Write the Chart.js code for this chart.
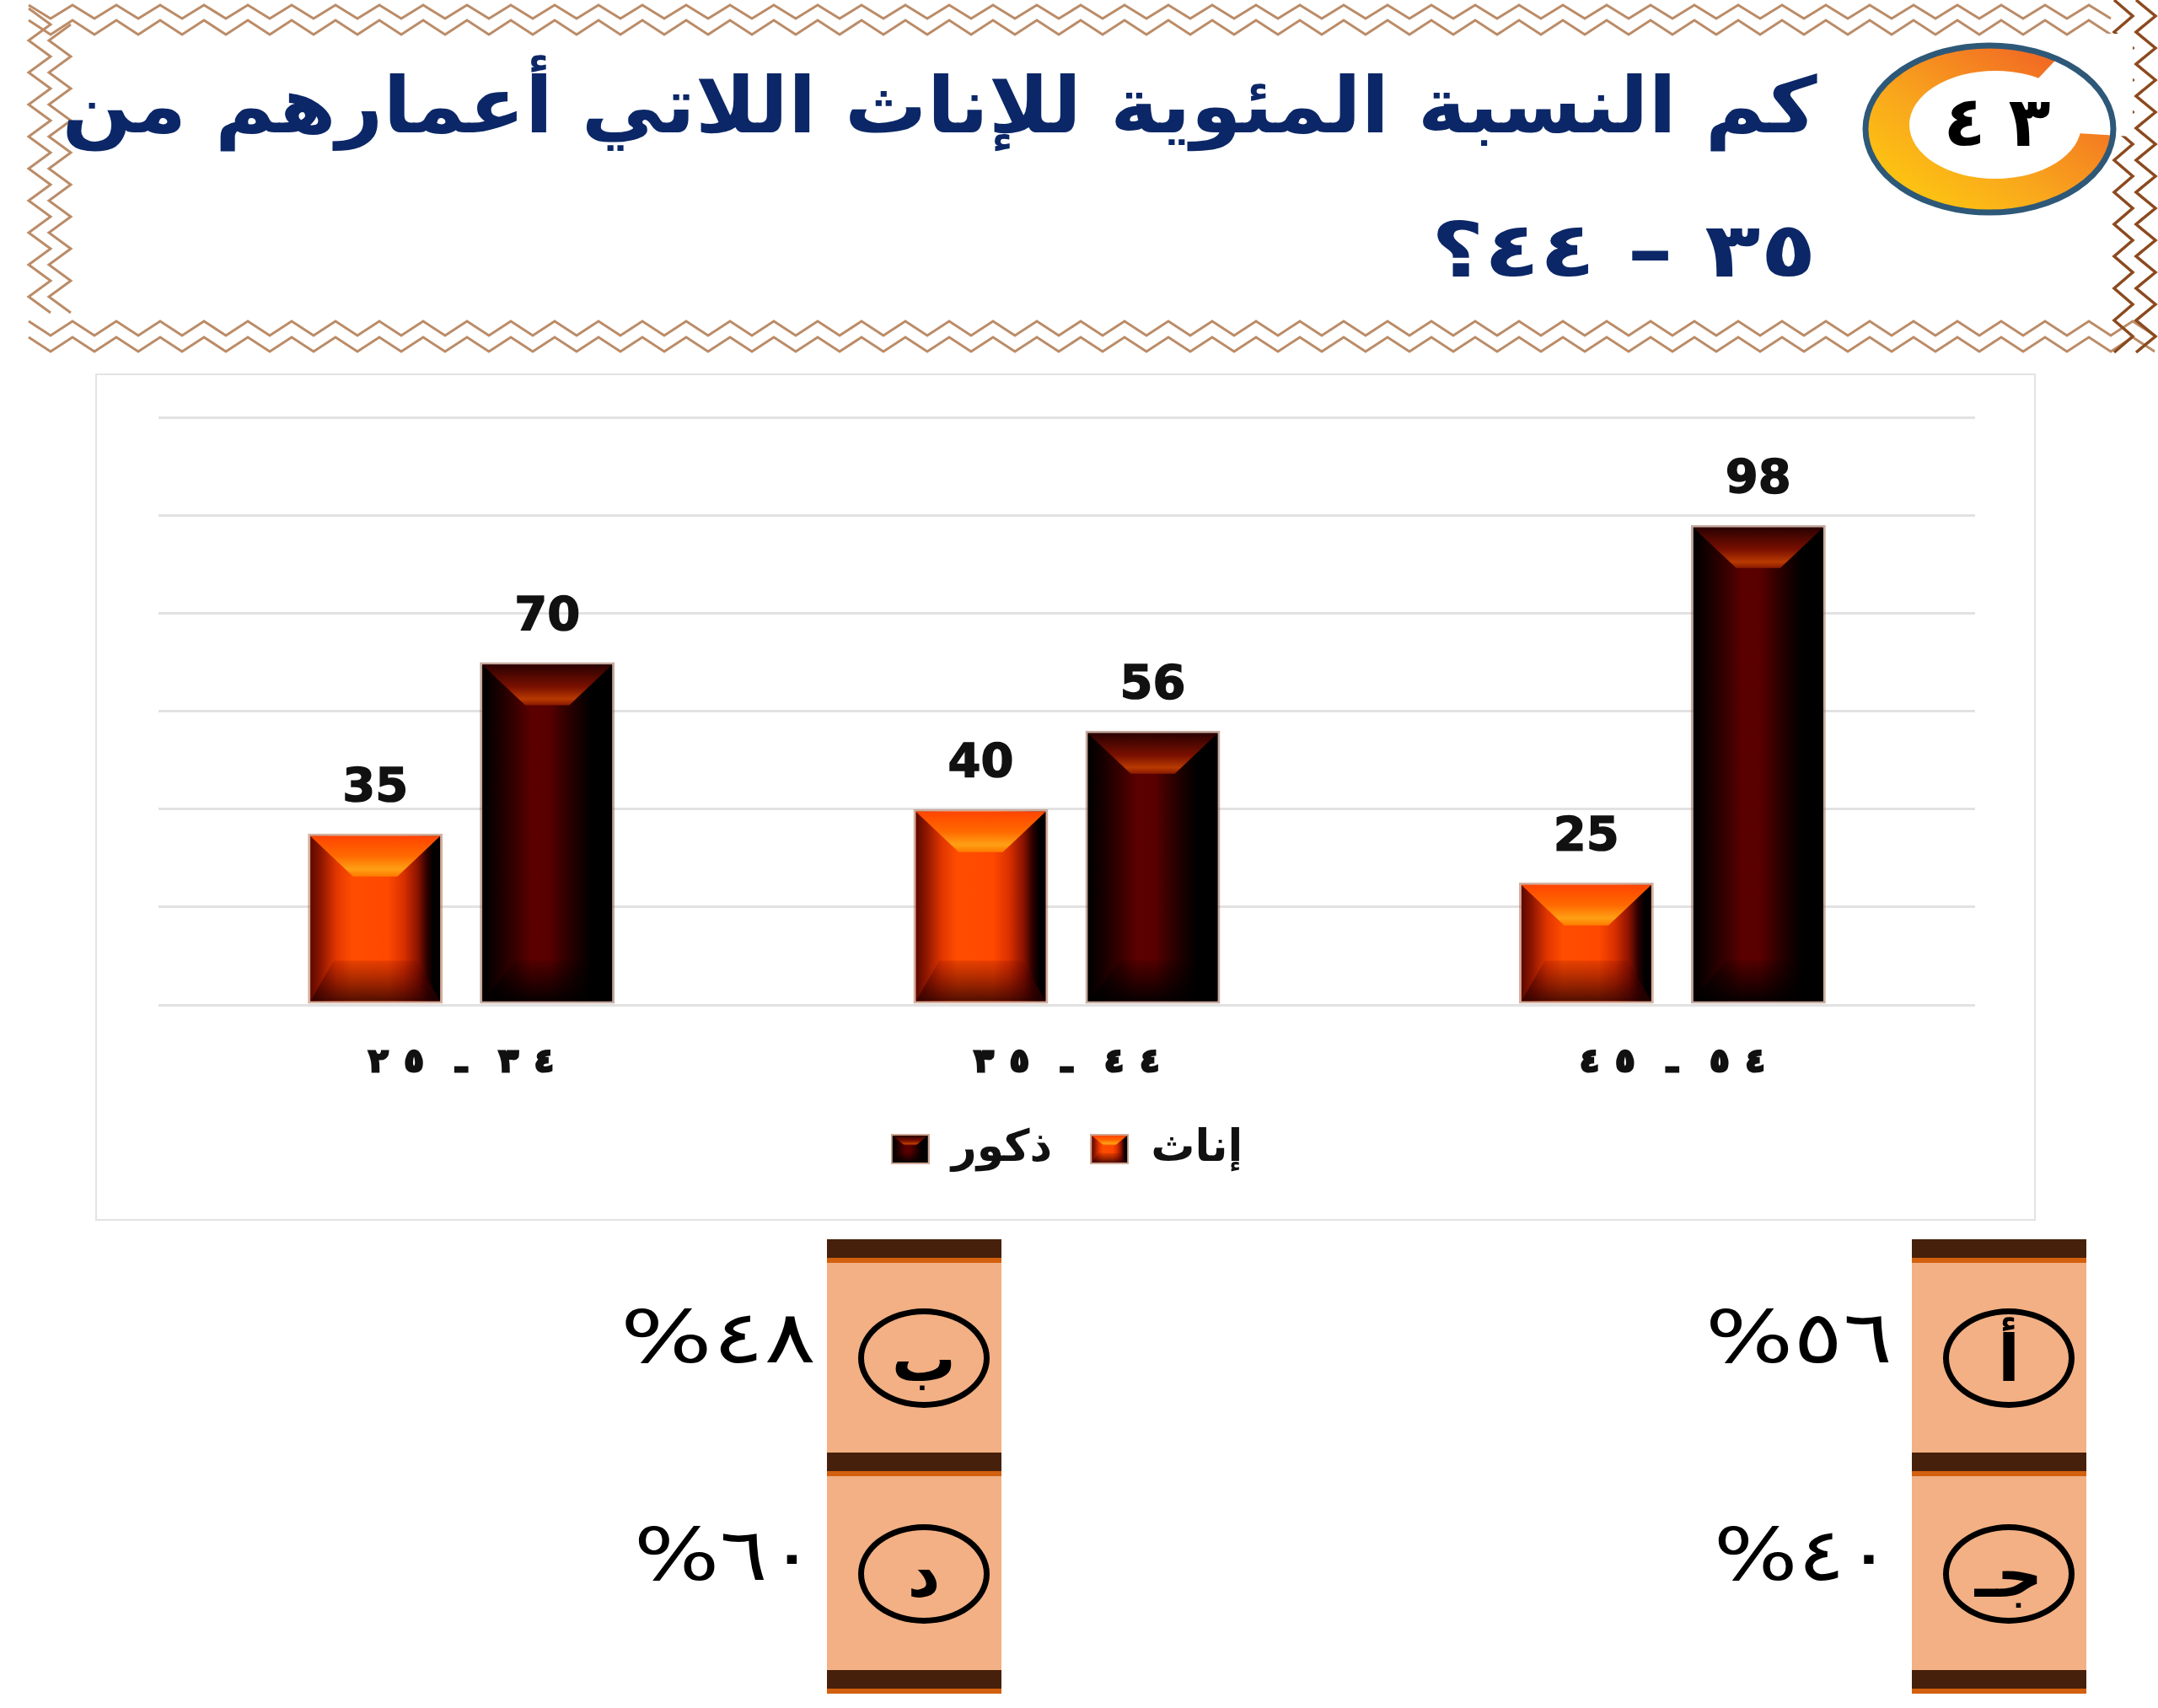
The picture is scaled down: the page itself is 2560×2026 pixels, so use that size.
<!DOCTYPE html>
<html lang="ar">
<head>
<meta charset="utf-8">
<title>النسبة المئوية للإناث والذكور حسب الفئة العمرية</title>
<script src="https://cdn.jsdelivr.net/npm/chart.js@4.4.1/dist/chart.umd.min.js"></script>
<style>
  html, body { margin: 0; padding: 0; background: #ffffff; }
  body { position: relative; width: 2560px; height: 2026px; overflow: hidden; font-family: "DejaVu Sans", sans-serif; }
  svg.layer { position: absolute; left: 0; top: 0; }
  .txt { position: absolute; white-space: nowrap; line-height: 1; }
  .rtl { direction: rtl; }
  #q1 { right: 405px; top: 80px; font-size: 92px; font-weight: bold; color: #0b2767; transform-origin: right center; }
  #q2 { right: 405px; top: 252px; font-size: 90px; font-weight: bold; color: #0b2767; transform-origin: right center; }
  #badgeNum { left: 2249px; top: 104px; width: 240px; text-align: center; font-size: 82px; font-weight: bold; color: #000; direction: ltr; }
  #chartFrame { position: absolute; left: 113px; top: 443px; width: 2298px; height: 1001px; border: 2px solid #e3e3e3; }
  #chartFrame canvas { display: block; }
  .cell { position: absolute; width: 207px; background: #f2b084; }
  .band { position: absolute; width: 207px; height: 22px; background: #46200a; border-bottom: 6px solid #d2600e; }
  .choice { position: absolute; width: 156px; height: 118px; border: 7px solid #000; border-radius: 50%; box-sizing: border-box;
            display: flex; align-items: center; justify-content: center; font-size: 76px; font-weight: bold; color: #000; }
  .answer { font-size: 86px; color: #000; direction: rtl; transform-origin: right center; }
</style>
</head>
<body>

<svg class="layer" id="deco" width="2560" height="430" viewBox="0 0 2560 430"></svg>
<div class="txt rtl" id="q1">كم النسبة المئوية للإناث اللاتي أعمارهم من</div>
<div class="txt rtl" id="q2">٣٥ – ٤٤؟</div>
<div class="txt" id="badgeNum">&#x202D;٤&#x2004;٣&#x202C;</div>

<div id="chartFrame"><canvas id="ageChart" width="2298" height="1001"></canvas></div>

<div id="choices"></div>

<script>
// ---------------- data ----------------
const ageGroups    = ['٢٥ ـ ٣٤', '٣٥ ـ ٤٤', '٤٥ ـ ٥٤'];
const seriesNames  = ['إناث', 'ذكور'];
const femaleValues = [35, 40, 25];
const maleValues   = [70, 56, 98];
const yAxisMax  = 120;
const yAxisStep = 20;

// answer options: letter + percentage
const choiceLetters = ['أ', 'ب', 'جـ', 'د'];
const choiceValues  = ['٥٦%', '٤٨%', '٤٠%', '٦٠%'];

// ---------------- header decoration ----------------
const SVGNS = 'http://www.w3.org/2000/svg';
const deco = document.getElementById('deco');
function svgEl(name, attrs) {
  const e = document.createElementNS(SVGNS, name);
  for (const k in attrs) e.setAttribute(k, attrs[k]);
  deco.appendChild(e);
  return e;
}
function zigzagH(x0, x1, yA, yB, period, color, w) {
  const pts = [];
  let up = true;
  for (let x = x0; x <= x1; x += period / 2) { pts.push(x + ',' + (up ? yA : yB)); up = !up; }
  svgEl('polyline', { points: pts.join(' '), fill: 'none', stroke: color, 'stroke-width': w, 'stroke-linejoin': 'miter' });
}
function zigzagV(y0, y1, xA, xB, period, color, w) {
  const pts = [];
  let left = true;
  for (let y = y0; y <= y1; y += period / 2) { pts.push((left ? xA : xB) + ',' + y); left = !left; }
  svgEl('polyline', { points: pts.join(' '), fill: 'none', stroke: color, 'stroke-width': w, 'stroke-linejoin': 'miter' });
}
const lightBrown = '#bb8c68', darkBrown = '#8b4a1e';
zigzagH(34, 2505, 6, 22, 52, lightBrown, 3);
zigzagH(34, 2505, 24, 41, 52, lightBrown, 3);
zigzagH(34, 2560, 381, 398, 52, lightBrown, 3);
zigzagH(34, 2560, 400, 417, 52, lightBrown, 3);
zigzagV(10, 372, 34, 60, 38, lightBrown, 3);
zigzagV(29, 372, 84, 58, 38, lightBrown, 3);
zigzagV(0, 425, 2508, 2530, 38, darkBrown, 3.5);
zigzagV(0, 425, 2534, 2557, 38, darkBrown, 3.5);

// number badge
const defs = svgEl('defs', {});
const grad = document.createElementNS(SVGNS, 'linearGradient');
grad.setAttribute('id', 'ringGrad');
grad.setAttribute('x1', '0'); grad.setAttribute('y1', '1'); grad.setAttribute('x2', '1'); grad.setAttribute('y2', '0');
[['0', '#ffd20c'], ['0.4', '#f9a81c'], ['0.75', '#f37722'], ['1', '#ee4f24']].forEach(([o, c]) => {
  const s = document.createElementNS(SVGNS, 'stop');
  s.setAttribute('offset', o); s.setAttribute('stop-color', c);
  grad.appendChild(s);
});
defs.appendChild(grad);
svgEl('ellipse', { cx: 2360, cy: 153, rx: 145, ry: 97, fill: 'url(#ringGrad)' });
svgEl('polygon', { points: '2366,148 2468,40 2530,40 2530,162 2366,152', fill: '#ffffff' });
svgEl('ellipse', { cx: 2367, cy: 148, rx: 102, ry: 64, fill: '#ffffff' });
svgEl('ellipse', { cx: 2360, cy: 153, rx: 147, ry: 99, fill: 'none', stroke: '#2e5878', 'stroke-width': 7 });

// ---------------- answer options ----------------
const choicesBox = document.getElementById('choices');
function addDiv(cls, css, text) {
  const d = document.createElement('div');
  d.className = cls;
  Object.assign(d.style, css);
  if (text !== undefined) d.textContent = text;
  choicesBox.appendChild(d);
  return d;
}
const colLeft   = [2268, 981];   // box left edge: first column is on the right
const textRight = [315, 1592];   // CSS right for the percentage text
const rowTop    = [1498, 1751];
const rowH      = [225, 230];
const answerTargets = [];
colLeft.forEach((cx, c) => {
  addDiv('band', { left: cx + 'px', top: '1470px' });
  addDiv('band', { left: cx + 'px', top: '1723px' });
  addDiv('band', { left: cx + 'px', top: '1981px' });
  rowTop.forEach((ry, r) => {
    addDiv('cell', { left: cx + 'px', top: ry + 'px', height: rowH[r] + 'px' });
    const centerY = r === 0 ? 1611 : 1867;
    addDiv('choice', { left: (cx + 37) + 'px', top: (centerY - 59) + 'px' }, choiceLetters[r === 0 ? c : 2 + c]);
    const t = addDiv('txt answer', { right: textRight[c] + 'px', top: (r === 0 ? 1543 : 1801) + 'px' }, choiceValues[r === 0 ? c : 2 + c]);
    answerTargets.push([t, [[222, 232], [212, 216]][r][c]]);
  });
});

// scale a text line horizontally so it spans the wanted width
function fitWidth(el, target) {
  el.style.transform = 'none';
  const w = el.getBoundingClientRect().width;
  if (w > 0) el.style.transform = 'scaleX(' + (target / w).toFixed(4) + ')';
}

// ---------------- chart shading ----------------
const palettes = [
  { // إناث
    fill: '#ff4a00',
    body: [[0, '#5c0800'], [0.08, '#8e1600'], [0.2, '#e23600'], [0.32, '#ff4d00'], [0.6, '#ff4800'],
           [0.72, '#d83000'], [0.83, '#8a1200'], [0.9, '#2a0000'], [0.95, '#000000'], [1, '#000000']],
    top: [[0, '#ff4400'], [0.5, '#ff6a00'], [0.82, '#ffa014'], [1, '#ff7a00']],
    topInset: 0.33, bottomInset: 0.18,
    bottom: [[0, 'rgba(90,0,0,0.15)'], [1, 'rgba(40,0,0,0.8)']]
  },
  { // ذكور
    fill: '#500000',
    body: [[0, '#000000'], [0.06, '#0a0000'], [0.26, '#3a0000'], [0.38, '#5c0000'], [0.52, '#580000'],
           [0.62, '#380000'], [0.74, '#180000'], [0.84, '#000000'], [1, '#000000']],
    top: [[0, '#2a0000'], [0.55, '#7a1000'], [0.85, '#b83a00'], [1, '#8a1a00']],
    topInset: 0.33, bottomInset: 0.25,
    bottom: [[0, 'rgba(0,0,0,0.1)'], [1, 'rgba(0,0,0,0.9)']]
  }
];

function shadeBar(ctx, left, top, width, height, p, depth) {
  if (width <= 0 || height <= 0) return;
  const right = left + width, bottom = top + height;
  let g = ctx.createLinearGradient(left, 0, right, 0);
  p.body.forEach(([s, c]) => g.addColorStop(s, c));
  ctx.fillStyle = g;
  ctx.fillRect(left, top, width, height);
  const d = Math.min(depth, height * 0.35);
  // upper bevel
  ctx.beginPath();
  ctx.moveTo(left, top); ctx.lineTo(right, top);
  ctx.lineTo(right - width * p.topInset, top + d); ctx.lineTo(left + width * p.topInset, top + d);
  ctx.closePath();
  g = ctx.createLinearGradient(0, top, 0, top + d);
  p.top.forEach(([s, c]) => g.addColorStop(s, c));
  ctx.fillStyle = g; ctx.fill();
  // lower bevel
  ctx.beginPath();
  ctx.moveTo(left, bottom); ctx.lineTo(right, bottom);
  ctx.lineTo(right - width * p.bottomInset, bottom - d); ctx.lineTo(left + width * p.bottomInset, bottom - d);
  ctx.closePath();
  g = ctx.createLinearGradient(0, bottom - d, 0, bottom);
  p.bottom.forEach(([s, c]) => g.addColorStop(s, c));
  ctx.fillStyle = g; ctx.fill();
}

const barShading = {
  id: 'barShading',
  afterDatasetDraw(chart, args) {
    const ctx = chart.ctx;
    const p = palettes[args.index];
    const bw = 3;
    args.meta.data.forEach(bar => {
      const { x, y, base, width } = bar.getProps(['x', 'y', 'base', 'width'], true);
      ctx.save();
      shadeBar(ctx, x - width / 2 + bw, Math.min(y, base) + bw, width - 2 * bw, Math.abs(base - y) - 2 * bw, p, 48);
      ctx.restore();
    });
  }
};

const valueLabels = {
  id: 'valueLabels',
  afterDatasetsDraw(chart) {
    const ctx = chart.ctx;
    ctx.save();
    ctx.font = 'bold 56px "DejaVu Sans", sans-serif';
    ctx.fillStyle = '#111111';
    ctx.strokeStyle = '#111111';
    ctx.lineWidth = 1.5;
    ctx.textAlign = 'center';
    ctx.textBaseline = 'middle';
    chart.data.datasets.forEach((ds, i) => {
      chart.getDatasetMeta(i).data.forEach((bar, j) => {
        const txt = String(ds.data[j]);
        ctx.fillText(txt, bar.x, bar.y - 53);
        ctx.strokeText(txt, bar.x, bar.y - 53);
      });
    });
    ctx.restore();
  }
};

function legendIcon(p) {
  const c = document.createElement('canvas');
  c.width = 46; c.height = 36;
  const g = c.getContext('2d');
  g.fillStyle = 'rgba(176,112,80,0.6)';
  g.fillRect(0, 0, 46, 36);
  shadeBar(g, 2, 2, 42, 32, p, 13);
  return c;
}
const legendIcons = palettes.map(legendIcon);

// category label drawn left-to-right with wide letter spacing
function spacedLabel(s) {
  const [a, b] = s.split(' ـ ');
  const sp = t => [...t].join('\u2002');
  return '\u202D' + sp(a) + '\u2003ـ\u2003' + sp(b) + '\u202C';
}

const FONT = '"DejaVu Sans", sans-serif';

function drawChart() {
  new Chart(document.getElementById('ageChart'), {
    type: 'bar',
    data: {
      labels: ageGroups,
      datasets: [
        { label: seriesNames[0], data: femaleValues, backgroundColor: palettes[0].fill,
          borderColor: 'rgba(176,112,80,0.55)', borderWidth: 3, borderSkipped: false,
          categoryPercentage: 0.568, barPercentage: 0.784 },
        { label: seriesNames[1], data: maleValues, backgroundColor: palettes[1].fill,
          borderColor: 'rgba(150,100,80,0.55)', borderWidth: 3, borderSkipped: false,
          categoryPercentage: 0.568, barPercentage: 0.784 }
      ]
    },
    options: {
      responsive: false,
      animation: false,
      devicePixelRatio: 1,
      layout: { padding: { left: 73, right: 70, top: 50, bottom: 47 } },
      scales: {
        x: {
          grid: { display: false },
          border: { display: false },
          ticks: {
            font: { family: FONT, size: 38, weight: 'bold' },
            color: '#111111',
            textStrokeColor: '#111111',
            textStrokeWidth: 3,
            padding: 38,
            callback: (v, i) => spacedLabel(ageGroups[i])
          },
          afterFit: s => { s.height = 100; }
        },
        y: {
          min: 0, max: yAxisMax,
          ticks: { stepSize: yAxisStep, display: false },
          grid: { color: '#e2e2e2', lineWidth: 3, drawTicks: false },
          border: { display: false },
          afterFit: s => { s.width = 0; }
        }
      },
      plugins: {
        legend: {
          position: 'bottom',
          reverse: true,
          labels: {
            usePointStyle: true,
            pointStyleWidth: 46,
            boxHeight: 36,
            padding: 45,
            color: '#111111',
            font: { family: FONT, size: 52, weight: 'bold' },
            generateLabels(chart) {
              const items = Chart.defaults.plugins.legend.labels.generateLabels(chart);
              items.forEach(it => { it.pointStyle = legendIcons[it.datasetIndex]; });
              return items;
            }
          }
        },
        tooltip: { enabled: false }
      }
    },
    plugins: [barShading, valueLabels]
  });
}

function layoutText() {
  fitWidth(document.getElementById('q1'), 2082);
  fitWidth(document.getElementById('q2'), 457);
  answerTargets.forEach(([el, w]) => fitWidth(el, w));
}

(document.fonts ? document.fonts.ready : Promise.resolve()).then(() => {
  layoutText();
  drawChart();
});
</script>
</body>
</html>
